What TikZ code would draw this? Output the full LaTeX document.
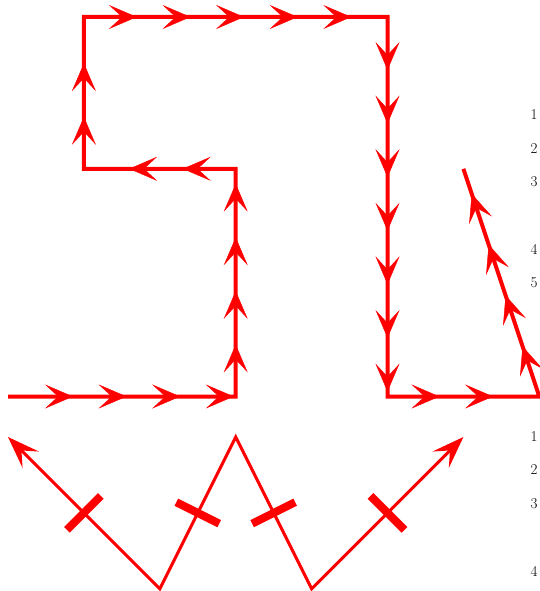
\documentclass[tikz,border=0pt]{standalone}
\usetikzlibrary{arrows.meta,decorations.markings,calc}
\begin{document}
\begin{tikzpicture}[x=1pt,y=-1pt,
  redline/.style={draw=red, line width=4pt},
  zigline/.style={draw=red, line width=3pt},
  tipmark/.style={red, decoration={markings, mark=between positions #1 and 1 step 53.6pt with {\arrow{Stealth[length=28pt,width=24pt,inset=13pt]}}}, postaction={decorate}},
  tickbar/.style={draw=red, line width=8pt},
  num/.style={font=\fontsize{15}{17}\selectfont, inner sep=0pt}
]
\useasboundingbox (0,0) rectangle (539,591);
% top path corners
\coordinate (A) at (8,396.5);
\coordinate (B) at (235.7,396.5);
\coordinate (C) at (235.7,168.8);
\coordinate (D) at (83.9,168.8);
\coordinate (E) at (83.9,17);
\coordinate (F) at (387.5,17);
\coordinate (G) at (387.5,396.5);
\coordinate (H) at (539.3,396.5);
\coordinate (I) at (463.4,168.8);
\draw[redline] (A) -- (B) -- (C) -- (D) -- (E) -- (F) -- (G) -- (H) -- (I);
\path[tipmark=65pt] (A) -- (B);
\path[tipmark=52pt] (B) -- (C);
\path[tipmark=53pt] (C) -- (D);
\path[tipmark=52pt] (D) -- (E);
\path[tipmark=53pt] (E) -- (F);
\path[tipmark=53pt] (F) -- (G);
\path[tipmark=52pt] (G) -- (H);
\path[tipmark=53pt] (H) -- (I);
% zigzag
\coordinate (J) at (8,437);
\coordinate (K) at (159.8,588.8);
\coordinate (L) at (235.7,437);
\coordinate (M) at (311.6,588.8);
\coordinate (N) at (463.4,437);
\draw[zigline, {Stealth[length=32pt,width=23pt,inset=13pt]}-{Stealth[length=32pt,width=23pt,inset=13pt]}] (J) -- (K) -- (L) -- (M) -- (N);
\coordinate (m1) at ($(J)!0.5!(K)$);
\coordinate (m2) at ($(K)!0.5!(L)$);
\coordinate (m3) at ($(L)!0.5!(M)$);
\coordinate (m4) at ($(M)!0.5!(N)$);
\draw[tickbar] ($(m1)!24pt!90:(K)$) -- ($(m1)!24pt!-90:(K)$);
\draw[tickbar] ($(m2)!24pt!90:(L)$) -- ($(m2)!24pt!-90:(L)$);
\draw[tickbar] ($(m3)!24pt!90:(M)$) -- ($(m3)!24pt!-90:(M)$);
\draw[tickbar] ($(m4)!24pt!90:(N)$) -- ($(m4)!24pt!-90:(N)$);
% labels
\node[num] (t1) at (534,115) {1};
\node[num] (t2) at (534,149) {2};
\node[num] (t3) at (534,182) {3};
\node[num] (t4) at (534,249) {4};
\node[num] (t5) at (534,283) {5};
\node[num] (b1) at (534,437) {1};
\node[num] (b2) at (534,470) {2};
\node[num] (b3) at (534,504) {3};
\node[num] (b4) at (534,571) {4};
\end{tikzpicture}
\end{document}
